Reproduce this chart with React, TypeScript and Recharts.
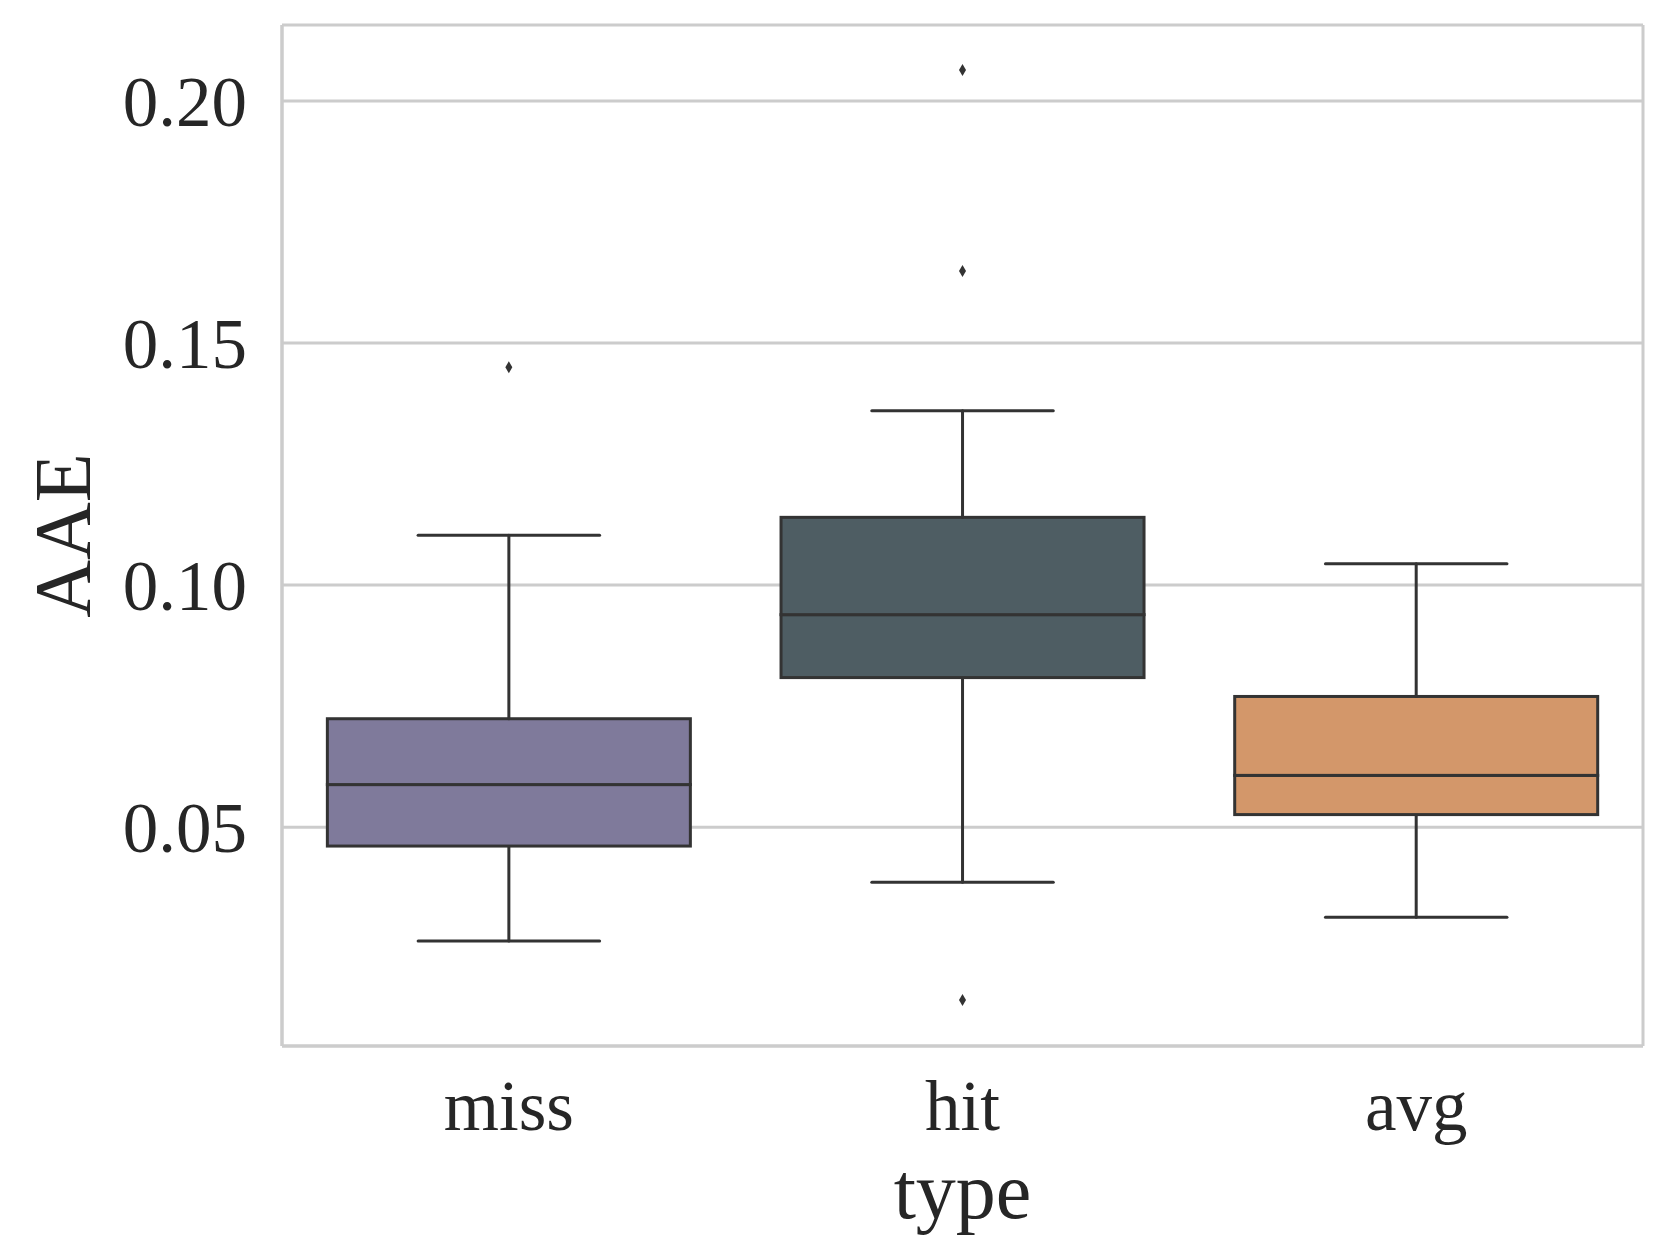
import React from "react"
import {
  ComposedChart,
  Bar,
  Scatter,
  XAxis,
  YAxis,
  CartesianGrid,
} from "recharts"

const types = ["miss", "hit", "avg"]
const mins = [0.0265, 0.0386, 0.0314]
const q1s = [0.0461, 0.0809, 0.0526]
const medians = [0.0588, 0.0939, 0.0607]
const q3s = [0.0724, 0.114, 0.077]
const maxs = [0.1103, 0.136, 0.1044]
const outliers = [[0.145], [0.2064, 0.1649, 0.0143], []]
const boxColors = ["#7f7a9b", "#4e5d63", "#d3976a"]
const yTicks = [0.05, 0.1, 0.15, 0.2]

const FONT = '"Liberation Serif", "Times New Roman", serif'
const INK = "#262626"
const LINE = "#333333"
const GRID = "#cccccc"

// stacked segments: invisible base, lower whisker, two box halves, upper whisker
const chartData = types.map((t, i) => ({
  type: t,
  base: mins[i],
  lowWhisker: q1s[i] - mins[i],
  lowBox: medians[i] - q1s[i],
  highBox: q3s[i] - medians[i],
  highWhisker: maxs[i] - q3s[i],
  out1: outliers[i][0] ?? null,
  out2: outliers[i][1] ?? null,
  out3: outliers[i][2] ?? null,
  color: boxColors[i],
}))

const Empty = () => <g />

const Whisker = (capAtTop: boolean) => (props: any) => {
  const { x, y, width, height } = props
  const cx = x + width / 2
  const capY = capAtTop ? y : y + height
  const half = width / 4
  return (
    <g stroke={LINE} strokeWidth={3} strokeLinecap="round">
      <line x1={cx} x2={cx} y1={y} y2={y + height} />
      <line x1={cx - half} x2={cx + half} y1={capY} y2={capY} />
    </g>
  )
}

const BoxPart = (props: any) => {
  const { x, y, width, height, payload } = props
  return (
    <rect
      x={x}
      y={y}
      width={width}
      height={height}
      fill={payload.color}
      stroke={LINE}
      strokeWidth={3}
    />
  )
}

const Diamond = (key: string) => (props: any) => {
  const { cx, cy, payload } = props
  if (payload == null || payload[key] == null || !isFinite(cy)) return <g />
  return (
    <path
      d={`M${cx},${cy - 6} L${cx + 3.5},${cy} L${cx},${cy + 6} L${cx - 3.5},${cy} Z`}
      fill={LINE}
    />
  )
}

const YLabel = (props: any) => {
  const vb = props.viewBox
  const x = 90
  const y = vb.y + vb.height / 2
  return (
    <text
      x={x}
      y={y}
      transform={`rotate(-90 ${x} ${y})`}
      textAnchor="middle"
      fontFamily={FONT}
      fontSize={80}
      fill={INK}
    >
      AAE
    </text>
  )
}

const XLabel = (props: any) => {
  const vb = props.viewBox
  return (
    <text
      x={vb.x + vb.width / 2}
      y={vb.y + 172}
      textAnchor="middle"
      fontFamily={FONT}
      fontSize={80}
      fill={INK}
    >
      type
    </text>
  )
}

// left/right frame lines of the plot area
const frameVerticals = (p: any) => {
  const off = p && p.offset
  if (!off) return []
  return [off.left, off.left + off.width]
}

export default function App() {
  return (
    <div style={{ width: 1660, height: 1245, background: "#fff" }}>
      <style>{`body{margin:0}`}</style>
      <ComposedChart
        width={1660}
        height={1245}
        data={chartData}
        margin={{ top: 25, right: 17, left: 0, bottom: 0 }}
        barCategoryGap="10%"
      >
        <CartesianGrid vertical={false} stroke={GRID} strokeWidth={3} />
        <CartesianGrid
          horizontal={false}
          verticalCoordinatesGenerator={frameVerticals}
          stroke={GRID}
          strokeWidth={3}
        />
        <XAxis
          dataKey="type"
          type="category"
          height={199}
          tickSize={0}
          tickMargin={34}
          axisLine={{ stroke: GRID, strokeWidth: 3 }}
          tick={{ fontFamily: FONT, fontSize: 71, fill: INK }}
          label={<XLabel />}
        />
        <XAxis
          xAxisId="top"
          dataKey="type"
          orientation="top"
          height={0}
          tick={false}
          tickLine={false}
          axisLine={{ stroke: GRID, strokeWidth: 3 }}
        />
        <YAxis
          type="number"
          width={282}
          domain={[0.0048, 0.2157]}
          allowDataOverflow
          ticks={yTicks}
          tickFormatter={(v: number) => v.toFixed(2)}
          tickSize={0}
          tickMargin={35}
          axisLine={{ stroke: GRID, strokeWidth: 3 }}
          tick={{ fontFamily: FONT, fontSize: 71, fill: INK }}
          label={<YLabel />}
        />
        <Bar dataKey="base" stackId="box" shape={Empty} isAnimationActive={false} />
        <Bar dataKey="lowWhisker" stackId="box" shape={Whisker(false)} isAnimationActive={false} />
        <Bar dataKey="lowBox" stackId="box" shape={BoxPart} isAnimationActive={false} />
        <Bar dataKey="highBox" stackId="box" shape={BoxPart} isAnimationActive={false} />
        <Bar dataKey="highWhisker" stackId="box" shape={Whisker(true)} isAnimationActive={false} />
        <Scatter dataKey="out1" shape={Diamond("out1")} isAnimationActive={false} />
        <Scatter dataKey="out2" shape={Diamond("out2")} isAnimationActive={false} />
        <Scatter dataKey="out3" shape={Diamond("out3")} isAnimationActive={false} />
      </ComposedChart>
    </div>
  )
}
